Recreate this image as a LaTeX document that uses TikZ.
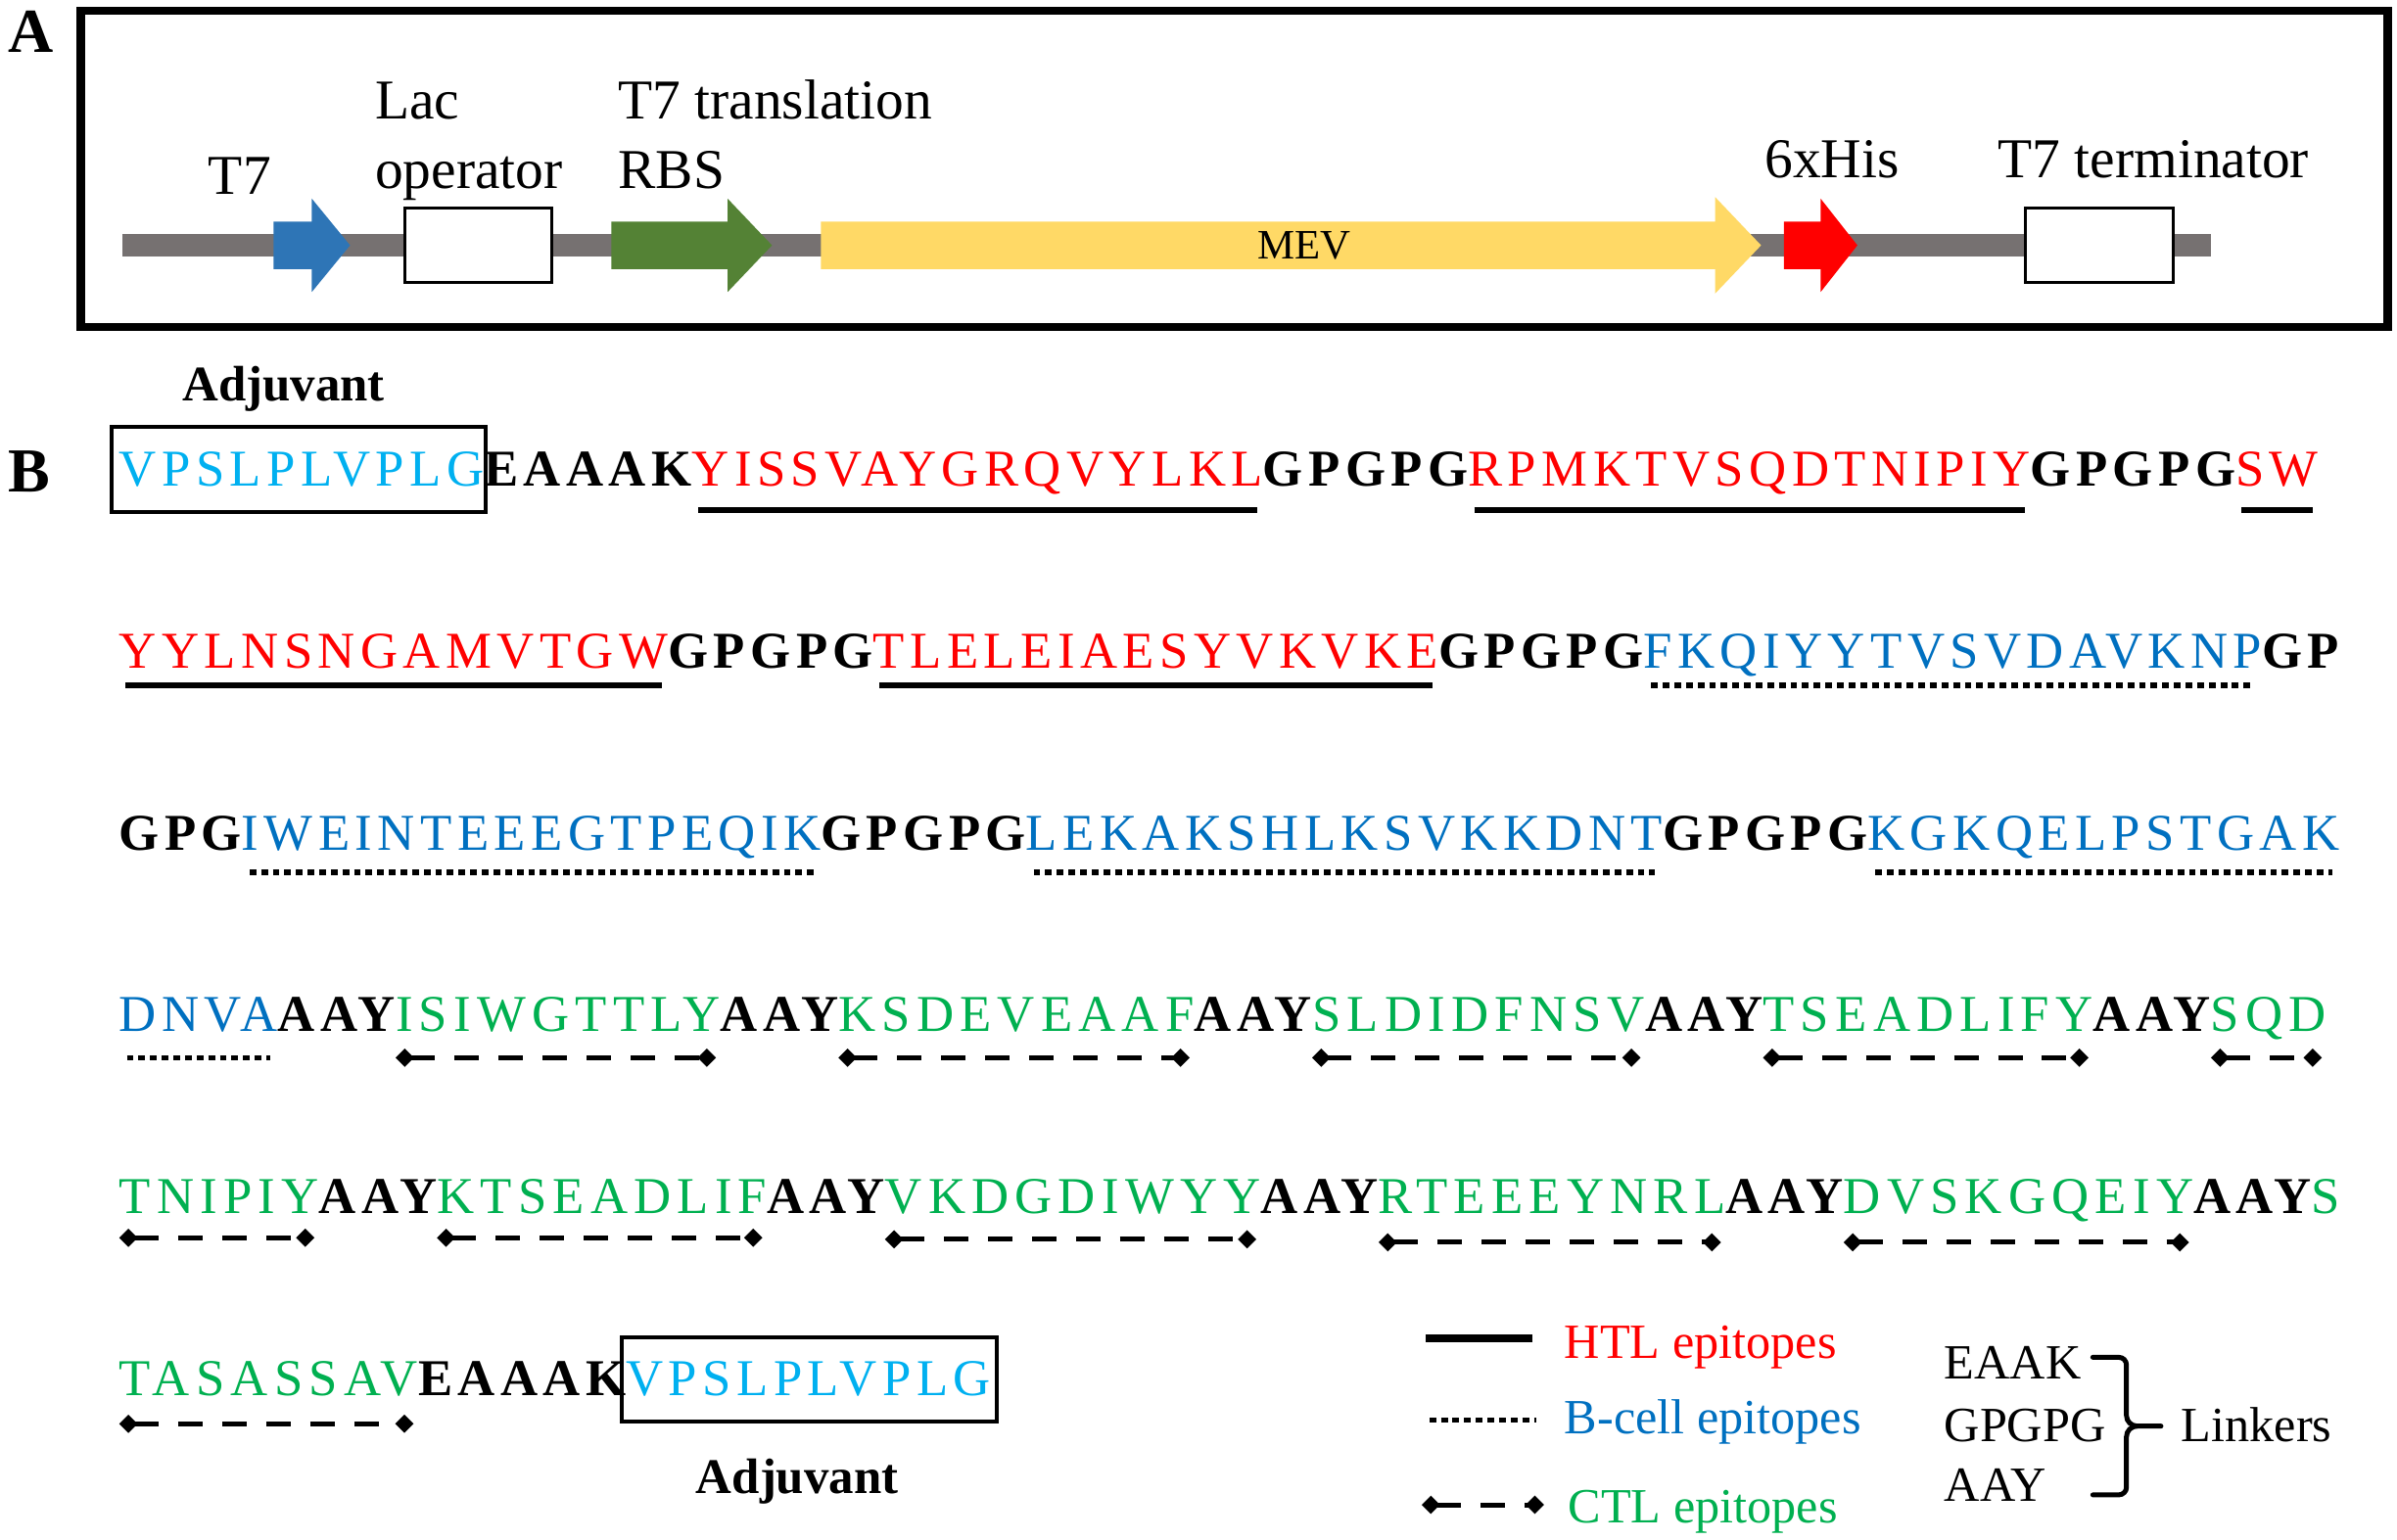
\documentclass[tikz,border=0pt]{standalone}
\usepackage{fontspec}
\setmainfont{Liberation Serif}
\newfontfamily\seqfont[LetterSpace=10.3]{Liberation Serif}
\usetikzlibrary{arrows.meta,calc}
\definecolor{AdjCyan}{RGB}{0,176,240}
\definecolor{HtlRed}{RGB}{255,0,0}
\definecolor{BcellBlue}{RGB}{0,112,192}
\definecolor{CtlGreen}{RGB}{0,176,80}
\definecolor{PromBlue}{RGB}{46,117,182}
\definecolor{RbsGreen}{RGB}{84,130,53}
\definecolor{MevYellow}{RGB}{255,217,102}
\definecolor{BackboneGray}{RGB}{118,113,113}

\begin{document}
\begin{tikzpicture}[x=0.5pt,y=0.5pt,
    seq/.style={inner sep=0pt,outer sep=0pt,anchor=base west,
      font=\seqfont\fontsize{16.9}{20}\selectfont},
    adj/.style={seq,text=AdjCyan},
    htl/.style={seq,text=HtlRed},
    bcell/.style={seq,text=BcellBlue},
    ctl/.style={seq,text=CtlGreen,
      font=\seqfont\addfontfeature{LetterSpace=11.8}\fontsize{16.9}{20}\selectfont},
    lnk/.style={seq,font=\seqfont\bfseries\fontsize{16.9}{20}\selectfont},
    lbl/.style={inner sep=0pt,anchor=base west,font=\fontsize{18.4}{22}\selectfont},
    legtext/.style={inner sep=0pt,anchor=base west,font=\fontsize{16.1}{19}\selectfont},
    panel/.style={inner sep=0pt,anchor=base west,font=\bfseries\fontsize{20.5}{24}\selectfont},
    adjlabel/.style={inner sep=0pt,anchor=base west,font=\bfseries\fontsize{16.3}{19}\selectfont},
    htlline/.style={line width=2pt},
    bline/.style={line width=1.8pt,dash pattern=on 2.2pt off 1.6pt},
    ctlline/.style={line width=1.6pt,dash pattern=on 8pt off 6.4pt,
      {Kite[length=6pt,width=6pt,inset=3pt]}-{Kite[length=6pt,width=6pt,inset=3pt]}},
    adjbox/.style={line width=1.3pt},
    brace/.style={line width=1.6pt,line cap=round}]
  \useasboundingbox (0,0) rectangle (1568,-1007);

  % panel A
  \node[panel] (pa) at (5,-34) {A};
  \draw[line width=2.8pt] (53,-7) rectangle (1562,-214);
  \draw[BackboneGray,line width=7.5pt] (80,-160.5) -- (1446,-160.5);
  \fill[PromBlue] (179,-145) -- (204,-145) -- (204,-130) -- (229,-160.5)
    -- (204,-191) -- (204,-176) -- (179,-176) -- cycle;
  \draw[fill=white,line width=1pt] (265,-136) rectangle (361,-185);
  \fill[RbsGreen] (400,-145) -- (476,-145) -- (476,-130) -- (505,-160.5)
    -- (476,-191) -- (476,-176) -- (400,-176) -- cycle;
  \fill[MevYellow] (537,-145) -- (1122,-145) -- (1122,-129) -- (1152,-160.5)
    -- (1122,-192) -- (1122,-176) -- (537,-176) -- cycle;
  \fill[HtlRed] (1167,-145) -- (1191,-145) -- (1191,-130) -- (1215,-160.5)
    -- (1191,-191) -- (1191,-176) -- (1167,-176) -- cycle;
  \draw[fill=white,line width=1pt] (1325,-136) rectangle (1421.5,-185);
  \node[font=\fontsize{13.7}{16}\selectfont] (mev) at (853,-160.5) {MEV};
  \node[lbl] (t7) at (136,-127) {T7};
  \node[lbl] (lac) at (245,-78) {Lac};
  \node[lbl] (oper) at (245,-123) {operator};
  \node[lbl] (t7tr) at (404,-78) {T7 translation};
  \node[lbl] (rbs) at (404,-123) {RBS};
  \node[lbl] (his) at (1154,-116) {6xHis};
  \node[lbl] (term) at (1306.6,-116) {T7 terminator};

  % panel B
  \node[panel] (pb) at (5,-322) {B};
  \node[adjlabel] (adj1) at (119,-262) {Adjuvant};

  \node[adj] (r1a) at (78,-318) {VPSLPLVPLG};
  \node[lnk] (r1b) at (r1a.base east) {EAAAK};
  \node[htl] (r1c) at (r1b.base east) {YISSVAYGRQVYLKL};
  \node[lnk] (r1d) at (r1c.base east) {GPGPG};
  \node[htl] (r1e) at (r1d.base east) {RPMKTVSQDTNIPIY};
  \node[lnk] (r1f) at (r1e.base east) {GPGPG};
  \node[htl] (r1g) at (r1f.base east) {SW};

  \node[htl] (r2a) at (78,-437) {YYLNSNGAMVTGW};
  \node[lnk] (r2b) at (r2a.base east) {GPGPG};
  \node[htl] (r2c) at (r2b.base east) {TLELEIAESYVKVKE};
  \node[lnk] (r2d) at (r2c.base east) {GPGPG};
  \node[bcell] (r2e) at (r2d.base east) {FKQIYYTVSVDAVKNP};
  \node[lnk] (r2f) at (r2e.base east) {GP};

  \node[lnk] (r3a) at (78,-556) {GPG};
  \node[bcell] (r3b) at (r3a.base east) {IWEINTEEEGTPEQIK};
  \node[lnk] (r3c) at (r3b.base east) {GPGPG};
  \node[bcell] (r3d) at (r3c.base east) {LEKAKSHLKSVKKDNT};
  \node[lnk] (r3e) at (r3d.base east) {GPGPG};
  \node[bcell] (r3f) at (r3e.base east) {KGKQELPSTGAK};

  \node[bcell] (r4a) at (78,-674.5) {DNVA};
  \node[lnk] (r4b) at (r4a.base east) {AAY};
  \node[ctl] (r4c) at (r4b.base east) {ISIWGTTLY};
  \node[lnk] (r4d) at (r4c.base east) {AAY};
  \node[ctl] (r4e) at (r4d.base east) {KSDEVEAAF};
  \node[lnk] (r4f) at (r4e.base east) {AAY};
  \node[ctl] (r4g) at (r4f.base east) {SLDIDFNSV};
  \node[lnk] (r4h) at (r4g.base east) {AAY};
  \node[ctl] (r4i) at (r4h.base east) {TSEADLIFY};
  \node[lnk] (r4j) at (r4i.base east) {AAY};
  \node[ctl] (r4k) at (r4j.base east) {SQD};

  \node[ctl] (r5a) at (78,-793.8) {TNIPIY};
  \node[lnk] (r5b) at (r5a.base east) {AAY};
  \node[ctl] (r5c) at (r5b.base east) {KTSEADLIF};
  \node[lnk] (r5d) at (r5c.base east) {AAY};
  \node[ctl] (r5e) at (r5d.base east) {VKDGDIWYY};
  \node[lnk] (r5f) at (r5e.base east) {AAY};
  \node[ctl] (r5g) at (r5f.base east) {RTEEEYNRL};
  \node[lnk] (r5h) at (r5g.base east) {AAY};
  \node[ctl] (r5i) at (r5h.base east) {DVSKGQEIY};
  \node[lnk] (r5j) at (r5i.base east) {AAY};
  \node[ctl] (r5k) at (r5j.base east) {S};

  \node[ctl] (r6a) at (78,-913) {TASASSAV};
  \node[lnk] (r6b) at (r6a.base east) {EAAAK};
  \node[adj] (r6c) at (r6b.base east) {VPSLPLVPLG};
  \node[adjlabel] (adj2) at (455,-977) {Adjuvant};

  \draw[adjbox] ($(r1a.base west)+(-5,-17)$) rectangle ($(r1a.base east)+(1,39)$);
  \draw[adjbox] ($(r6c.base west)+(-3,-17)$) rectangle ($(r6c.base east)+(4,38)$);

  \foreach \n/\dy in {r1c/15.5,r1e/15.5,r1g/15.5,r2a/11.5,r2c/11.5}
    \draw[htlline] ($(\n.base west)+(4,-\dy)$) -- ($(\n.base east)+(-4,-\dy)$);
  \foreach \n/\dy in {r2e/11.5,r3b/14.5,r3d/14.5,r3f/14.5,r4a/17.5}
    \draw[bline] ($(\n.base west)+(5,-\dy)$) -- ($(\n.base east)+(-5,-\dy)$);
  \foreach \n/\dy in {r4c/17.5,r4e/17.5,r4g/17.5,r4i/17.5,r4k/17.5,
                      r5a/16,r5c/16,r5e/17,r5g/19,r5i/19,r6a/18.5}
    \draw[ctlline] ($(\n.base west)+(0,-\dy)$) -- ($(\n.base east)+(-3,-\dy)$);

  % legend
  \node[legtext,text=HtlRed] (lhtl) at (1023,-889) {HTL epitopes};
  \node[legtext,text=BcellBlue] (lbcell) at (1023,-938) {B-cell epitopes};
  \node[legtext,text=CtlGreen] (lctl) at (1025.5,-996) {CTL epitopes};
  \draw[htlline,line width=2.5pt] ($(lhtl.base west)+(-90.4,13.4)$) -- ++(70,0);
  \draw[bline] ($(lbcell.base west)+(-88,9)$) -- ++(70,0);
  \draw[ctlline] ($(lctl.base west)+(-95.5,11.5)$) -- ++(80,0);

  \node[legtext] (leaak) at (1271.5,-902) {EAAK};
  \node[legtext] (lgpgpg) at (1271.5,-943) {GPGPG};
  \node[legtext] (laay) at (1271.5,-982) {AAY};
  \node[legtext] (llink) at (1426.5,-943) {Linkers};
  \draw[brace] (1369,-888) -- (1386,-888) to[out=0,in=90] (1391,-893)
    -- (1391,-926) to[out=-90,in=180] (1398,-933) -- (1413.6,-933);
  \draw[brace] (1369,-978) -- (1386,-978) to[out=0,in=-90] (1391,-973)
    -- (1391,-940) to[out=90,in=180] (1398,-933);
\end{tikzpicture}
\end{document}
